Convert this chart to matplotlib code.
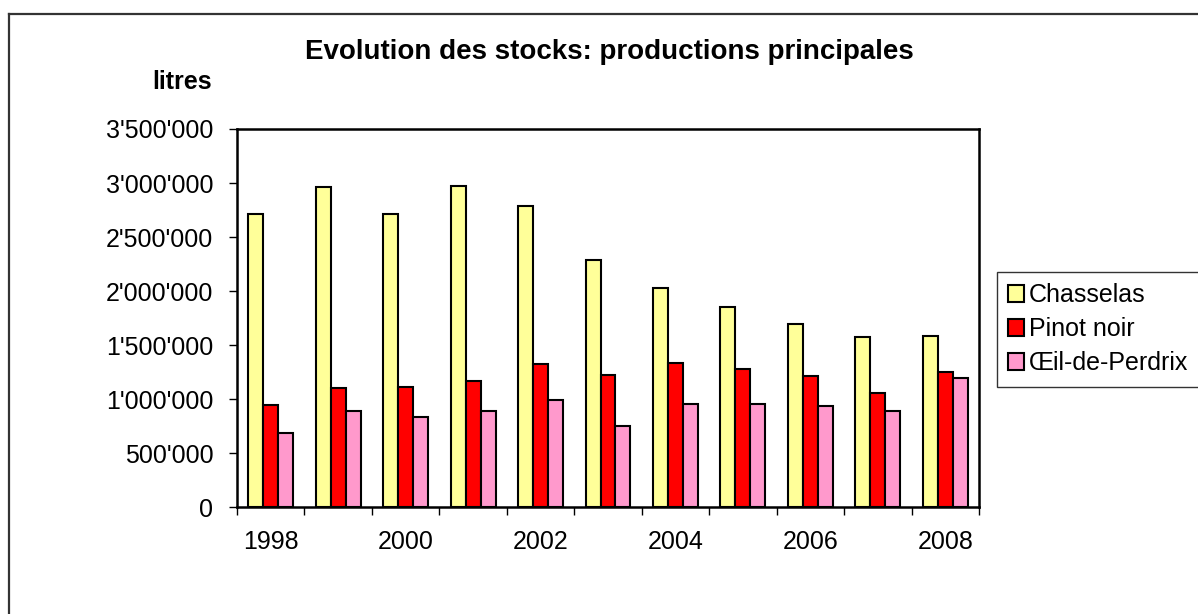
import numpy as np
import matplotlib.pyplot as plt
from matplotlib.patches import Patch
from matplotlib.lines import Line2D
from matplotlib.ticker import FuncFormatter

plt.rcParams['font.family'] = ['Liberation Sans', 'DejaVu Sans']

# données (litres)
years = ['1998', '1999', '2000', '2001', '2002', '2003', '2004', '2005', '2006', '2007', '2008']
chasselas = [2716000, 2966000, 2716000, 2975000, 2790000, 2290000, 2031000, 1855000, 1697000, 1574000, 1583000]
pinot_noir = [944000, 1108000, 1111000, 1169000, 1330000, 1222000, 1339000, 1284000, 1216000, 1061000, 1256000]
oeil_perdrix = [685000, 895000, 839000, 895000, 997000, 756000, 956000, 956000, 938000, 889000, 1194000]
series_names = ['Chasselas', 'Pinot noir', 'Œil-de-Perdrix']
colors = ['#FFFF99', '#FF0000', '#FF99CC']

W, H = 1198, 614
fig = plt.figure(figsize=(W / 100, H / 100), dpi=100)

# cadre extérieur (seuls le haut et la gauche sont visibles)
fig.add_artist(Line2D([9 / W, 9 / W], [1 - 14 / H, -0.02], transform=fig.transFigure,
                      color='#333333', lw=1.6, clip_on=False))
fig.add_artist(Line2D([9 / W, 1.02], [1 - 14 / H, 1 - 14 / H], transform=fig.transFigure,
                      color='#333333', lw=1.6, clip_on=False))

left, right, top, bottom = 237, 979, 129, 507.3
ax = fig.add_axes([left / W, 1 - bottom / H, (right - left) / W, (bottom - top) / H])

x = np.arange(len(years))
bw = 0.222
for i, (vals, name, c) in enumerate(zip([chasselas, pinot_noir, oeil_perdrix], series_names, colors)):
    ax.bar(x + (i - 1) * bw, vals, width=bw, color=c, edgecolor='black', linewidth=1.5, label=name, zorder=3)

ax.set_xlim(-0.5, len(years) - 0.5)
ax.set_ylim(0, 3500000)
ax.set_yticks(np.arange(0, 3500001, 500000))
ax.yaxis.set_major_formatter(FuncFormatter(lambda v, p: f"{int(v):,}".replace(',', "'")))

ax.set_xticks(x[::2])
ax.set_xticklabels(years[::2])
ax.set_xticks(np.arange(-0.5, len(years)), minor=True)
ax.tick_params(axis='x', which='major', length=0, pad=16, labelsize=18)
ax.tick_params(axis='x', which='minor', length=6, width=1, direction='out')
ax.tick_params(axis='y', length=6, width=1, direction='out', pad=11, labelsize=18)

for s in ax.spines.values():
    s.set_linewidth(1.8)
    s.set_color('black')

fig.text(609 / W, 1 - 52 / H, 'Evolution des stocks: productions principales',
         ha='center', va='center', fontsize=20, fontweight='bold')
fig.text(182 / W, 1 - 82 / H, 'litres', ha='center', va='center', fontsize=18, fontweight='bold')

handles = [Patch(facecolor=c, edgecolor='black', linewidth=1.5) for c in colors]
leg = fig.legend(handles, series_names, loc='upper left', bbox_to_anchor=(997 / W, 1 - 272 / H),
                 borderaxespad=0, fontsize=18, frameon=True, fancybox=False,
                 handlelength=0.64, handleheight=0.64, handletextpad=0.2,
                 labelspacing=0.4, borderpad=0.45)
leg.get_frame().set_edgecolor('black')
leg.get_frame().set_linewidth(1.0)

fig.savefig('out.png', dpi=100)
